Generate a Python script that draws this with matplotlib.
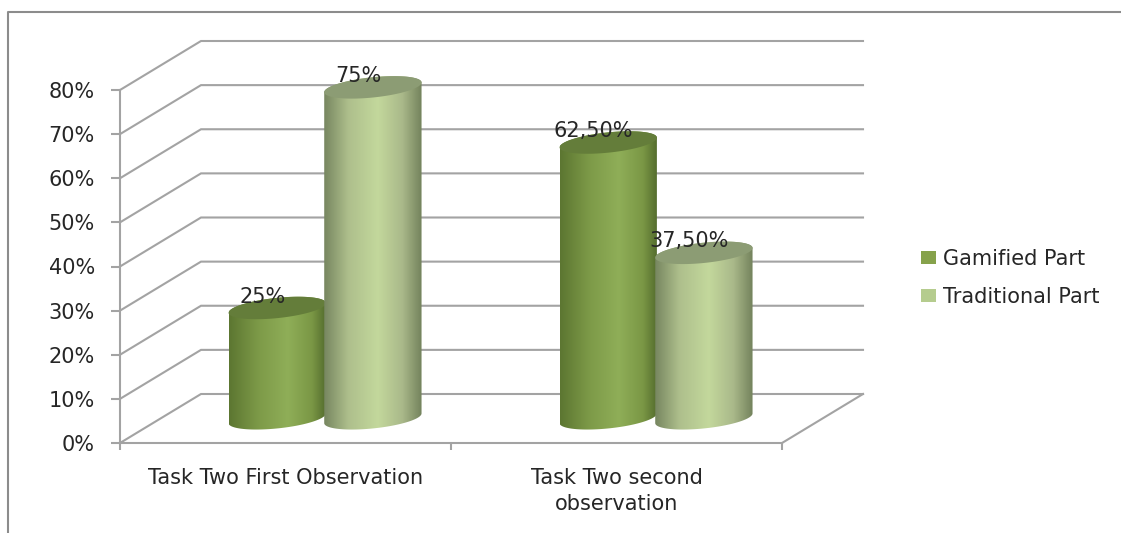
import numpy as np
import matplotlib
matplotlib.use('Agg')
import matplotlib.pyplot as plt
from matplotlib.colors import LinearSegmentedColormap
from matplotlib.patches import Patch, Polygon

categories = ['Task Two First Observation', 'Task Two second\nobservation']
series_names = ['Gamified Part', 'Traditional Part']
gamified = [25, 62.5]
traditional = [75, 37.5]
gamified_labels = ['25%', '62,50%']
traditional_labels = ['75%', '37,50%']
y_ticks = [0, 10, 20, 30, 40, 50, 60, 70, 80]

LINE = '#a3a3a3'
TEXT = '#262626'
plt.rcParams['font.family'] = ['DejaVu Sans']

W, H = 1121, 533
fig = plt.figure(figsize=(W / 100, H / 100), dpi=100, facecolor='white')
# front plane of the 3D box
ax = fig.add_axes([120 / W, (H - 443) / H, 662 / W, 353 / H])
ax.patch.set_visible(False)

# depth of the box in data units
depth_x = 81 / 331
depth_y = 49 / 4.4125

def draw_walls():
    for v in y_ticks:
        ax.plot([0, depth_x, 2 + depth_x], [v, v + depth_y, v + depth_y],
                color=LINE, lw=1.5, clip_on=False, zorder=1, solid_joinstyle='miter')
    ax.plot([2, 2 + depth_x], [0, depth_y], color=LINE, lw=1.5, clip_on=False, zorder=1)

def ellipse(cx, half_w, y_left, t):
    # tilted ellipse, the left edge sits at y_left
    shear = 1.1
    b = 2.3
    return cx + half_w * np.cos(t), y_left + shear + shear * np.cos(t) + b * np.sin(t)

def draw_cylinder(cx, half_w, value, cmap, top_color, z):
    base = 4.5
    t_low = np.linspace(np.pi, 2 * np.pi, 60)
    t_up = np.linspace(0, np.pi, 60)
    xb, yb = ellipse(cx, half_w, base, t_low)
    xt, yt = ellipse(cx, half_w, base + value, t_up)
    body = Polygon(np.column_stack([np.r_[xb, xt], np.r_[yb, yt]]), transform=ax.transData)
    grad = np.linspace(0, 1, 256).reshape(1, -1)
    im = ax.imshow(grad, cmap=cmap, aspect='auto', zorder=z, interpolation='bilinear',
                   extent=[cx - half_w, cx + half_w, 0, 90])
    im.set_clip_box(fig.bbox)
    im.set_clip_path(body)
    t = np.linspace(0, 2 * np.pi, 120)
    xe, ye = ellipse(cx, half_w, base + value, t)
    ax.fill(xe, ye, color=top_color, lw=0, zorder=z + 0.1, clip_on=False)

dark_map = LinearSegmentedColormap.from_list('dark', [(0, '#5c7631'), (0.3, '#7d9a48'), (0.6, '#8fae58'),
                                                      (0.85, '#7a9745'), (1, '#526a2c')])
light_map = LinearSegmentedColormap.from_list('light', [(0, '#778660'), (0.25, '#aebf8c'), (0.55, '#c3d89c'),
                                                        (0.8, '#aab98a'), (1, '#73825c')])

draw_walls()
half_w = 0.147
offsets = [0.475, 0.764]
for i in range(2):
    draw_cylinder(i + offsets[0], half_w, gamified[i], dark_map, '#647d3a', 3 + i * 2)
    draw_cylinder(i + offsets[1], half_w, traditional[i], light_map, '#8c9c74', 4 + i * 2)
    ax.text(i + offsets[0] - 0.045, gamified[i] + 8.2, gamified_labels[i], ha='center', va='center',
            fontsize=15, color=TEXT, zorder=10, clip_on=False)
    ax.text(i + offsets[1] - 0.045, traditional[i] + 8.2, traditional_labels[i], ha='center', va='center',
            fontsize=15, color=TEXT, zorder=10, clip_on=False)

ax.set_xlim(0, 2)
ax.set_ylim(0, 80)

for s in ['top', 'right']:
    ax.spines[s].set_visible(False)
for s in ['left', 'bottom']:
    ax.spines[s].set_color(LINE)
    ax.spines[s].set_linewidth(1.5)

ax.set_yticks(y_ticks)
ax.set_yticklabels([f'{v}%' for v in y_ticks], fontsize=15, color=TEXT)
ax.set_xticks([0, 1, 2])
ax.set_xticklabels([])
ax.set_xticks([0.5, 1.5], minor=True)
ax.set_xticklabels(categories, minor=True, fontsize=15, color=TEXT, linespacing=1.4)
ax.tick_params(axis='y', which='major', color=LINE, width=1.5, length=6.5, pad=11.5)
ax.tick_params(axis='x', which='major', color=LINE, width=1.5, length=5)
ax.tick_params(axis='x', which='minor', length=0, pad=18)

handles = [Patch(facecolor='#86a24b', label=series_names[0]),
           Patch(facecolor='#b5cc8e', label=series_names[1])]
fig.legend(handles=handles, loc='center left', bbox_to_anchor=(921 / W, 1 - 278 / H), frameon=False,
           fontsize=15, labelcolor=TEXT, handlelength=0.72, handleheight=0.58, handletextpad=0.33,
           labelspacing=0.85, borderpad=0, borderaxespad=0)

# outer chart frame
fig.add_artist(plt.Line2D([8 / W, 8 / W, 1], [0, 1 - 12 / H, 1 - 12 / H], color='#8c8c8c', lw=1.5))

fig.savefig('out.png', dpi=100)
